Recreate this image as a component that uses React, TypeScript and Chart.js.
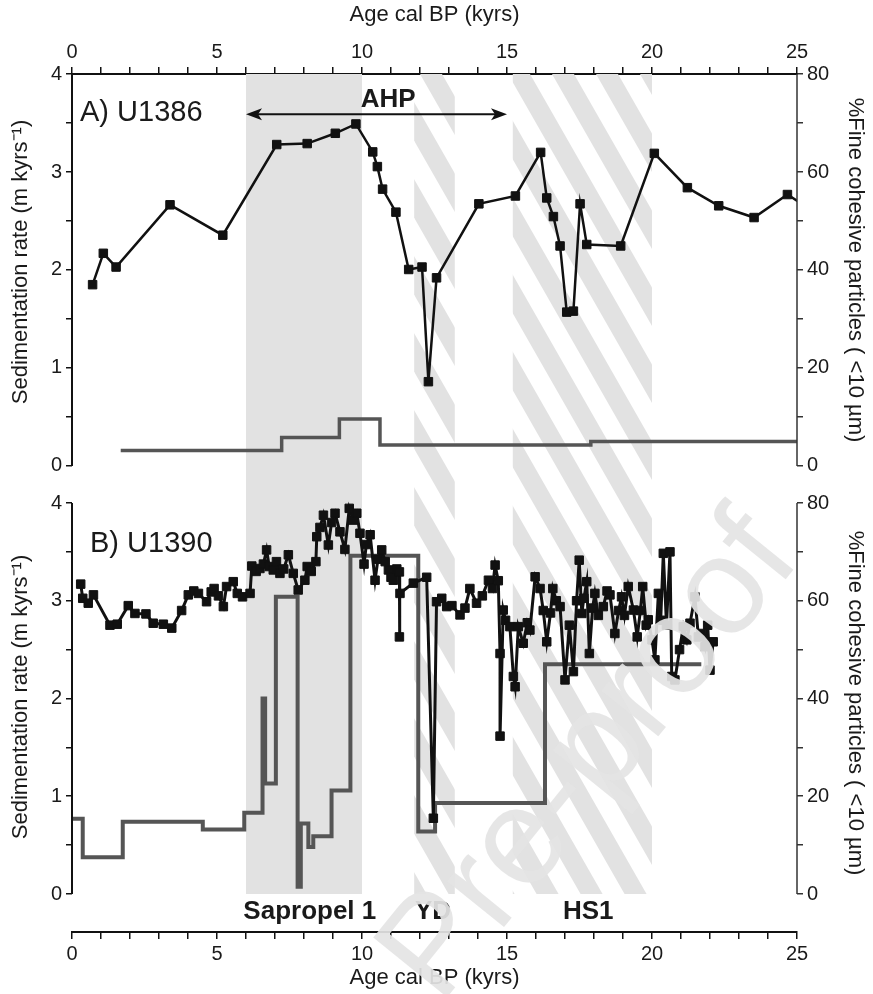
import { useEffect, useRef } from 'react';
import { Chart, registerables } from 'chart.js';

Chart.register(...registerables);

// ---------- data ----------
const AGE_MIN = 0;
const AGE_MAX = 25;
const SED_TICKS = [0, 0.5, 1, 1.5, 2, 2.5, 3, 3.5, 4];
const FINE_TICKS = [0, 10, 20, 30, 40, 50, 60, 70, 80];

// Panel A (U1386) — %fine cohesive particles
const A_FINE_AGE = [0.71, 1.08, 1.52, 3.38, 5.2, 7.06, 8.11, 9.08, 9.79, 10.37, 10.53, 10.71, 11.17, 11.61, 12.07, 12.29, 12.57, 14.03, 15.29, 16.16, 16.37, 16.6, 16.83, 17.06, 17.29, 17.52, 17.75, 18.92, 20.08, 21.22, 22.3, 23.52, 24.67, 25.5];
const A_FINE = [37.0, 43.4, 40.6, 53.3, 47.1, 65.6, 65.8, 67.9, 69.8, 64.1, 61.1, 56.5, 51.8, 40.1, 40.6, 17.2, 38.4, 53.5, 55.1, 64.0, 54.7, 50.9, 44.9, 31.4, 31.6, 53.5, 45.2, 44.9, 63.8, 56.8, 53.1, 50.7, 55.4, 52.2];
// Panel A — sedimentation rate (step)
const A_SED_AGE = [1.68, 7.23, 9.22, 10.62, 17.89, 25];
const A_SED = [0.157, 0.29, 0.48, 0.215, 0.25, 0.25];

// Panel B (U1390) — %fine cohesive particles
const B_FINE_AGE = [0.3, 0.37, 0.56, 0.74, 1.31, 1.56, 1.94, 2.17, 2.55, 2.8, 3.15, 3.44, 3.78, 4.01, 4.2, 4.36, 4.64, 4.8, 4.9, 5.05, 5.22, 5.33, 5.56, 5.7, 5.88, 6.14, 6.2, 6.35, 6.48, 6.6, 6.71, 6.8, 6.94, 7.05, 7.17, 7.3, 7.46, 7.63, 7.8, 8.03, 8.11, 8.25, 8.41, 8.44, 8.55, 8.67, 8.84, 8.95, 9.07, 9.24, 9.41, 9.56, 9.7, 9.82, 9.93, 10.07, 10.15, 10.28, 10.45, 10.55, 10.68, 10.8, 10.91, 11.0, 11.08, 11.2, 11.29, 11.29, 11.31, 11.77, 12.23, 12.46, 12.57, 12.75, 12.92, 13.1, 13.38, 13.55, 13.72, 13.95, 14.15, 14.36, 14.5, 14.59, 14.7, 14.76, 14.76, 14.87, 14.95, 15.1, 15.22, 15.28, 15.39, 15.56, 15.7, 15.79, 15.97, 16.14, 16.25, 16.37, 16.5, 16.58, 16.7, 16.83, 17.0, 17.15, 17.29, 17.4, 17.49, 17.58, 17.65, 17.75, 17.84, 17.95, 18.03, 18.15, 18.32, 18.45, 18.55, 18.72, 18.85, 18.95, 19.05, 19.18, 19.36, 19.49, 19.6, 19.68, 19.8, 19.87, 20.0, 20.1, 20.22, 20.3, 20.39, 20.5, 20.62, 20.68, 20.79, 20.95, 21.08, 21.2, 21.31, 21.48, 21.6, 21.71, 21.83, 21.92, 22.0, 22.11];
const B_FINE = [63.4, 60.5, 59.5, 61.2, 55.0, 55.2, 59.0, 57.4, 57.3, 55.4, 55.2, 54.4, 58.0, 61.2, 62.0, 61.5, 59.8, 61.8, 62.5, 61.0, 58.8, 62.9, 63.9, 61.5, 60.8, 61.5, 67.1, 66.0, 66.6, 67.5, 70.4, 67.0, 66.3, 68.0, 65.6, 66.5, 69.4, 65.6, 62.2, 64.2, 67.0, 66.0, 68.0, 73.1, 75.0, 77.5, 71.4, 76.0, 77.9, 74.1, 70.5, 78.9, 76.5, 77.9, 73.8, 67.5, 71.5, 73.5, 64.2, 68.5, 70.4, 68.0, 66.3, 64.8, 64.2, 66.5, 65.9, 52.6, 61.5, 63.6, 64.8, 15.5, 59.8, 60.5, 58.8, 59.0, 57.1, 58.5, 62.5, 59.5, 61.0, 64.2, 62.5, 67.3, 64.1, 49.2, 32.3, 58.1, 56.0, 54.7, 44.5, 42.4, 54.7, 51.3, 55.5, 54.0, 64.9, 62.5, 58.0, 51.6, 57.5, 62.5, 60.0, 58.8, 43.8, 55.0, 45.5, 60.0, 68.3, 57.4, 60.5, 63.9, 49.2, 58.5, 61.5, 57.0, 58.8, 62.0, 61.2, 53.3, 58.0, 60.8, 57.0, 62.9, 58.1, 52.6, 58.0, 62.9, 55.0, 56.1, 52.0, 47.9, 61.5, 56.0, 69.7, 55.0, 70.0, 44.5, 43.8, 50.0, 54.7, 52.0, 55.4, 60.8, 52.6, 53.3, 50.6, 55.0, 45.8, 51.6];
// Panel B — sedimentation rate (step)
const B_SED_AGE = [0, 0.37, 1.75, 4.51, 5.94, 6.57, 6.66, 7.03, 7.78, 7.89, 8.15, 8.32, 8.95, 9.6, 11.94, 12.52, 16.31, 21.7];
const B_SED = [0.77, 0.375, 0.74, 0.66, 0.83, 2.0, 1.13, 3.04, 0.075, 0.72, 0.48, 0.59, 1.06, 3.46, 0.64, 0.93, 2.35, 2.35];

// Intervals (kyr)
const SAPROPEL = [6, 10];
const YD = [11.8, 13.2];
const HS1 = [15.2, 20];
const AHP = [6, 15];

const FONT = '"Liberation Sans", Arial, Helvetica, sans-serif';
const SED_TITLE = 'Sedimentation rate (m kyrs\u207B\u00B9)';
const FINE_TITLE = '%Fine cohesive particles ( <10 \u00B5m)';

const pts = (xs: number[], ys: number[]) => xs.map((x, i) => ({ x, y: ys[i] }));

const decorPlugin = {
  id: 'decor',
  beforeDatasetsDraw(chart: any) {
    const { ctx, chartArea, scales } = chart;
    const x = scales.x;
    const top = chartArea.top;
    const bottom = scales.yB.getPixelForValue(0);
    ctx.save();
    const shade = '#e2e2e2';
    ctx.fillStyle = shade;
    const s0 = x.getPixelForValue(SAPROPEL[0]);
    const s1 = x.getPixelForValue(SAPROPEL[1]);
    ctx.fillRect(s0, top, s1 - s0, bottom - top);
    const H = bottom - top;
    const slope = 1.75;
    const shift = H / slope;
    const period = 44;
    const w = 22;
    for (const [a, b] of [YD, HS1]) {
      const h0 = x.getPixelForValue(a);
      const h1 = x.getPixelForValue(b);
      ctx.save();
      ctx.beginPath();
      ctx.rect(h0, top, h1 - h0, H);
      ctx.clip();
      ctx.fillStyle = shade;
      for (let s = -2000; s < h1 + period; s += period) {
        if (s + shift + w < h0) continue;
        ctx.beginPath();
        ctx.moveTo(s, top);
        ctx.lineTo(s + w, top);
        ctx.lineTo(s + w + shift, bottom);
        ctx.lineTo(s + shift, bottom);
        ctx.closePath();
        ctx.fill();
      }
      ctx.restore();
    }
    ctx.restore();
  },
  afterDatasetsDraw(chart: any) {
    const { ctx, chartArea, scales } = chart;
    const x = scales.x;
    ctx.save();
    // axis lines of each panel
    ctx.strokeStyle = '#111';
    ctx.lineWidth = 2;
    for (const k of ['yA', 'yB']) {
      const s = scales[k];
      ctx.beginPath();
      ctx.moveTo(chartArea.left, s.getPixelForValue(4));
      ctx.lineTo(chartArea.left, s.getPixelForValue(0));
      ctx.stroke();
    }
    ctx.strokeStyle = '#333';
    ctx.lineWidth = 1.5;
    for (const k of ['y1A', 'y1B']) {
      const s = scales[k];
      ctx.beginPath();
      ctx.moveTo(chartArea.right, s.getPixelForValue(80));
      ctx.lineTo(chartArea.right, s.getPixelForValue(0));
      ctx.stroke();
    }
    // AHP arrow
    const ay = scales.yA.getPixelForValue(3.59);
    const ax0 = x.getPixelForValue(AHP[0]);
    const ax1 = x.getPixelForValue(AHP[1]);
    ctx.strokeStyle = '#111';
    ctx.fillStyle = '#111';
    ctx.lineWidth = 2;
    ctx.beginPath();
    ctx.moveTo(ax0 + 10, ay);
    ctx.lineTo(ax1 - 10, ay);
    ctx.stroke();
    for (const [tip, dir] of [[ax0, 1], [ax1, -1]]) {
      ctx.beginPath();
      ctx.moveTo(tip, ay);
      ctx.lineTo(tip + dir * 16, ay - 6);
      ctx.lineTo(tip + dir * 12, ay);
      ctx.lineTo(tip + dir * 16, ay + 6);
      ctx.closePath();
      ctx.fill();
    }
    ctx.fillStyle = '#1a1a1a';
    ctx.textBaseline = 'middle';
    ctx.textAlign = 'center';
    ctx.font = `bold 26px ${FONT}`;
    ctx.fillText('AHP', x.getPixelForValue(10.9), 100);
    ctx.fillText('Sapropel 1', x.getPixelForValue(8.2), 912);
    ctx.fillText('YD', x.getPixelForValue(12.45), 912);
    ctx.fillText('HS1', x.getPixelForValue(17.8), 912);
    ctx.textAlign = 'left';
    ctx.font = `29px ${FONT}`;
    ctx.fillText('A) U1386', 80, 113);
    ctx.fillText('B) U1390', 90, 544);
    // y titles
    ctx.font = `22px ${FONT}`;
    ctx.textAlign = 'center';
    const yt = (txt: string, px: number, py: number, rot: number) => {
      ctx.save();
      ctx.translate(px, py);
      ctx.rotate(rot);
      ctx.fillText(txt, 0, 0);
      ctx.restore();
    };
    yt(SED_TITLE, 21, 262, -Math.PI / 2);
    yt(SED_TITLE, 21, 697, -Math.PI / 2);
    yt(FINE_TITLE, 855, 270, Math.PI / 2);
    yt(FINE_TITLE, 855, 703, Math.PI / 2);
    ctx.restore();
  },
  afterDraw(chart: any) {
    const { ctx } = chart;
    ctx.save();
    ctx.translate(440, 1006);
    ctx.rotate((-51 * Math.PI) / 180);
    ctx.font = `138px ${FONT}`;
    ctx.fillStyle = 'rgba(228,228,228,0.92)';
    ctx.textBaseline = 'alphabetic';
    ctx.textAlign = 'left';
    ctx.fillText('Pre-proof', 0, 0);
    ctx.restore();
  },
};

export default function App() {
  const ref = useRef<HTMLCanvasElement | null>(null);
  useEffect(() => {
    if (!ref.current) return;
    Chart.defaults.font.family = FONT;
    const tickFont = { size: 20, family: FONT };
    const xAxis = (position: 'top' | 'bottom', h: number) => ({
      type: 'linear' as const,
      position,
      min: AGE_MIN,
      max: AGE_MAX,
      bounds: 'data' as const,
      ticks: {
        stepSize: 1,
        autoSkip: false,
        maxRotation: 0,
        font: tickFont,
        color: '#1a1a1a',
        padding: 3,
        callback: (v: any) => (Number(v) % 5 === 0 ? String(v) : ''),
      },
      grid: { drawOnChartArea: false, drawTicks: true, tickLength: 7, color: '#111', lineWidth: 1.5 },
      border: { display: true, color: '#111', width: 2 },
      title: {
        display: true,
        text: 'Age cal BP (kyrs)',
        font: { size: 22, family: FONT },
        color: '#1a1a1a',
        padding: position === 'top' ? { top: 2, bottom: 0 } : { top: 0, bottom: 3 },
      },
      afterFit: (s: any) => {
        s.height = h;
      },
    });
    const yAxis = (position: 'left' | 'right', stack: string, weight: number, stackWeight: number, min: number, max: number, ticks: number[], labelStep: number, w: number) => ({
      type: 'linear' as const,
      position,
      stack,
      stackWeight,
      weight,
      min,
      max,
      bounds: 'data' as const,
      afterBuildTicks: (s: any) => {
        s.ticks = ticks.map((v) => ({ value: v }));
      },
      ticks: {
        autoSkip: false,
        font: tickFont,
        color: '#1a1a1a',
        padding: 4,
        callback: (v: any) => (Math.abs(Number(v) / labelStep - Math.round(Number(v) / labelStep)) < 1e-6 ? String(v) : ''),
      },
      grid: { drawOnChartArea: false, drawTicks: true, tickLength: 6, color: position === 'left' ? '#111' : '#333', lineWidth: 1.5 },
      border: { display: false },
      afterFit: (s: any) => {
        s.width = w;
      },
    });
    const chart = new Chart(ref.current, {
      type: 'line',
      data: {
        datasets: [
          {
            label: 'U1386 fine',
            data: pts(A_FINE_AGE, A_FINE),
            xAxisID: 'x',
            yAxisID: 'y1A',
            borderColor: '#111',
            borderWidth: 2.5,
            pointStyle: 'rect',
            pointRadius: 6,
            pointBorderWidth: 1,
            pointBackgroundColor: '#111',
            pointBorderColor: '#111',
            tension: 0,
          },
          {
            label: 'U1390 fine',
            data: pts(B_FINE_AGE, B_FINE),
            xAxisID: 'x',
            yAxisID: 'y1B',
            borderColor: '#111',
            borderWidth: 3,
            pointStyle: 'rect',
            pointRadius: 6,
            pointBorderWidth: 1,
            pointBackgroundColor: '#111',
            pointBorderColor: '#111',
            tension: 0,
          },
          {
            label: 'U1386 sed',
            data: pts(A_SED_AGE, A_SED),
            xAxisID: 'x',
            yAxisID: 'yA',
            borderColor: '#555',
            borderWidth: 3.5,
            pointRadius: 0,
            stepped: 'before',
          },
          {
            label: 'U1390 sed',
            data: pts(B_SED_AGE, B_SED),
            xAxisID: 'x',
            yAxisID: 'yB',
            borderColor: '#555',
            borderWidth: 4,
            pointRadius: 0,
            stepped: 'before',
          },
        ],
      },
      options: {
        responsive: false,
        maintainAspectRatio: false,
        animation: false,
        layout: { padding: 0 },
        plugins: { legend: { display: false }, tooltip: { enabled: false } },
        scales: {
          x: xAxis('bottom', 62),
          xTop: xAxis('top', 74),
          yA: yAxis('left', 'left', 1, 411, -0.1944, 4, SED_TICKS, 1, 72),
          yB: yAxis('left', 'left', 0, 447, -0.3887, 4.184, SED_TICKS, 1, 72),
          y1A: yAxis('right', 'right', 0, 411, -3.888, 80, FINE_TICKS, 20, 76),
          y1B: yAxis('right', 'right', 1, 447, -7.775, 83.68, FINE_TICKS, 20, 76),
        } as any,
      },
      plugins: [decorPlugin],
    });
    return () => chart.destroy();
  }, []);
  return (
    <div style={{ position: 'absolute', left: 0, top: 0, width: 873, height: 994, background: '#fff' }}>
      <canvas ref={ref} width={873} height={994} style={{ width: 873, height: 994, display: 'block' }} />
    </div>
  );
}
